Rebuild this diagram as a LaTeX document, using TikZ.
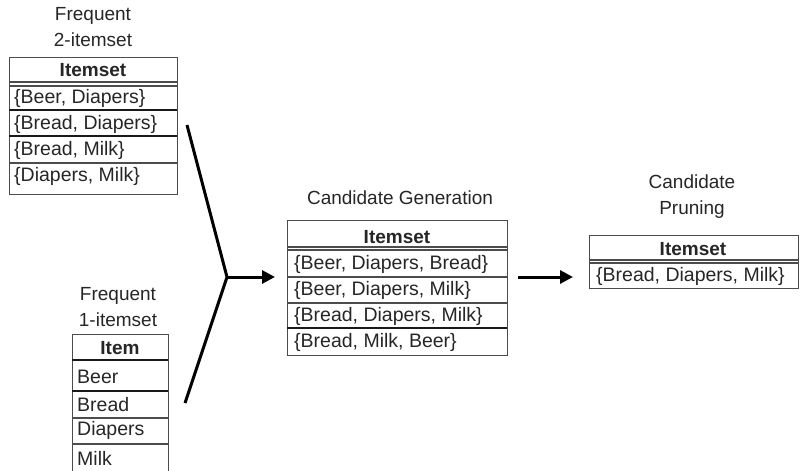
\documentclass[tikz,border=0pt]{standalone}
\usepackage{fontspec}
\setmainfont{Liberation Sans}
\usetikzlibrary{arrows.meta}
\begin{document}
\begin{tikzpicture}[x=1pt,y=-1pt,
  txt/.style={text=black!85, font=\fontsize{19.5}{22}\selectfont, inner sep=0pt},
  hdr/.style={txt, font=\fontsize{19}{22}\selectfont\bfseries},
  ttl/.style={txt, align=center, font=\fontsize{19}{26}\selectfont},
  tbl/.style={draw=black!70, line width=1.2pt, inner sep=0pt, anchor=north west},
  sep/.style={draw=black!70, line width=1.1pt},
  sepk/.style={draw=black!90, line width=1.8pt},
  conn/.style={draw=black, line width=3pt, line join=miter},
  tip/.style={-{Triangle[length=13pt,width=13pt]}}]
\useasboundingbox (0,0) rectangle (804,471);
\clip (0,0) rectangle (804,471);

% ---- Frequent 2-itemset
\node[ttl] (ti2) at (93,27) {Frequent\\2-itemset};
\node[tbl, minimum width=168pt, minimum height=137pt] (t2) at (9,57) {};
\draw[sep] (9,82) -- (177,82);
\draw[sep] (9,86) -- (177,86);
\draw[sepk] (9,110) -- (177,110);
\draw[sepk] (9,136) -- (177,136);
\draw[sep] (9,163) -- (177,163);
\node[hdr] (h2) at (93,70) {Itemset};
\node[txt, anchor=west] (a1) at (14,98) {\{Beer, Diapers\}};
\node[txt, anchor=west] (a2) at (14,124) {\{Bread, Diapers\}};
\node[txt, anchor=west] (a3) at (14,150) {\{Bread, Milk\}};
\node[txt, anchor=west] (a4) at (14,176) {\{Diapers, Milk\}};

% ---- Frequent 1-itemset
\node[ttl] (ti1) at (118,307) {Frequent\\1-itemset};
\node[tbl, minimum width=96pt, minimum height=150pt] (t1) at (72,334) {};
\draw[sepk] (72,360) -- (168,360);
\draw[sepk] (72,391) -- (168,391);
\draw[sep] (72,418) -- (168,418);
\draw[sep] (72,444) -- (168,444);
\node[hdr] (h1) at (120,348) {Item};
\node[txt, anchor=west] (b1) at (77,377) {Beer};
\node[txt, anchor=west] (b2) at (77,405) {Bread};
\node[txt, anchor=west] (b3) at (77,430) {Diapers};
\node[txt, anchor=west] (b4) at (77,458) {Milk};

% ---- Candidate Generation
\node[ttl] (ti3) at (400,198) {Candidate Generation};
\node[tbl, minimum width=220pt, minimum height=135pt] (t3) at (287,220) {};
\draw[sep] (287,247) -- (507,247);
\draw[sep] (287,250) -- (507,250);
\draw[sep] (287,277) -- (507,277);
\draw[sep] (287,303) -- (507,303);
\draw[sepk] (287,328) -- (507,328);
\node[hdr] (h3) at (397,237) {Itemset};
\node[txt, anchor=west] (c1) at (294,264) {\{Beer, Diapers, Bread\}};
\node[txt, anchor=west] (c2) at (294,290) {\{Beer, Diapers, Milk\}};
\node[txt, anchor=west] (c3) at (294,316) {\{Bread, Diapers, Milk\}};
\node[txt, anchor=west] (c4) at (294,342) {\{Bread, Milk, Beer\}};

% ---- Candidate Pruning
\node[ttl] (ti4) at (692,197) {Candidate\\Pruning};
\node[tbl, minimum width=209pt, minimum height=53pt] (t4) at (589,235) {};
\draw[sep] (589,260) -- (798,260);
\draw[sep] (589,263) -- (798,263);
\node[hdr] (h4) at (693,249) {Itemset};
\node[txt, anchor=west] (d1) at (596,276) {\{Bread, Diapers, Milk\}};

% ---- connectors
\coordinate (A) at (187,125);
\coordinate (J) at (227,277);
\coordinate (B) at (185,403);
\draw[conn] (A) -- (J) -- (B);
\draw[conn, tip, shorten >=12pt] (J) -- (J -| t3.west);
\draw[conn, tip, shorten <=10pt, shorten >=16pt] (t3.east |- J) -- (t4.west |- J);
\end{tikzpicture}
\end{document}
